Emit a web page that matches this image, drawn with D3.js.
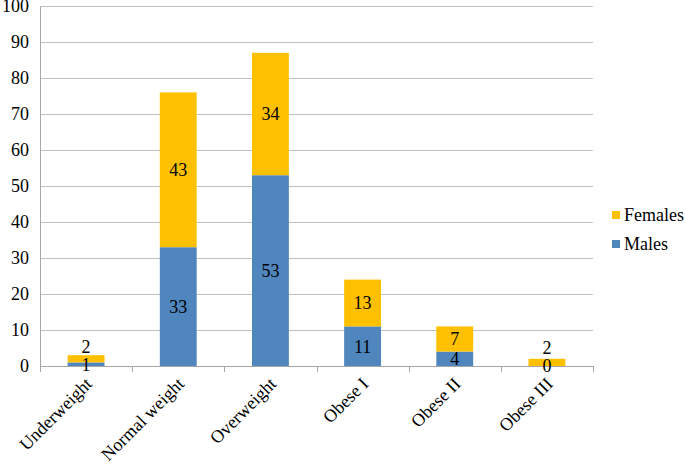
<!DOCTYPE html>
<html lang="en">
<head>
  <meta charset="UTF-8">
  <title>BMI categories by sex</title>
  <script src="https://d3js.org/d3.v7.min.js"></script>
  <style>
    body { margin: 0; background: #fff; }
    text { font-family: "Liberation Serif", "Times New Roman", serif; fill: #000; }
    .grid line { stroke: #bfbfbf; stroke-width: 1; shape-rendering: crispEdges; }
  </style>
</head>
<body>
<div id="chart"></div>
<script>
  // chart values
  const categories = ["Underweight", "Normal weight", "Overweight", "Obese I", "Obese II", "Obese III"];
  const males = [1, 33, 53, 11, 4, 0];
  const females = [2, 43, 34, 13, 7, 2];
  const yTicks = [0, 10, 20, 30, 40, 50, 60, 70, 80, 90, 100];
  const seriesNames = ["Females", "Males"];
  const colors = { Males: "#4f86bd", Females: "#ffc000" };

  const width = 685, height = 464;
  const plot = { left: 40, right: 593, top: 6, bottom: 366 };
  const fs = "18px";

  const svg = d3.select("#chart").append("svg")
    .attr("width", width)
    .attr("height", height);

  const x = d3.scaleBand().domain(categories).range([plot.left, plot.right]).paddingInner(0.6).paddingOuter(0.3);
  const xOuter = d3.scaleBand().domain(categories).range([plot.left, plot.right]);
  const y = d3.scaleLinear().domain([0, 100]).range([plot.bottom, plot.top]);

  // gridlines
  svg.append("g")
    .attr("class", "grid")
    .selectAll("line")
    .data(yTicks.filter(d => d > 0))
    .enter().append("line")
    .attr("x1", plot.left)
    .attr("x2", plot.right)
    .attr("y1", d => Math.round(y(d)) + 0.5)
    .attr("y2", d => Math.round(y(d)) + 0.5);

  // y axis
  const yAxis = svg.append("g")
    .attr("transform", `translate(${plot.left},0)`)
    .call(d3.axisLeft(y).tickValues(yTicks).tickSize(0).tickPadding(11));
  yAxis.attr("font-family", null).attr("font-size", null);
  yAxis.select(".domain").attr("stroke", "#a6a6a6").attr("shape-rendering", "crispEdges");
  yAxis.selectAll("text").style("font-size", fs);

  // stacked bars
  const rows = categories.map((c, i) => ({ cat: c, Males: males[i], Females: females[i] }));
  const stack = d3.stack().keys(["Males", "Females"])(rows);

  svg.append("g").selectAll("g")
    .data(stack)
    .enter().append("g")
    .attr("fill", d => colors[d.key])
    .selectAll("rect")
    .data(d => d)
    .enter().append("rect")
    .attr("x", d => x(d.data.cat))
    .attr("width", x.bandwidth())
    .attr("y", d => y(d[1]))
    .attr("height", d => y(d[0]) - y(d[1]));

  // x axis
  const xAxis = svg.append("g")
    .attr("transform", `translate(0,${plot.bottom})`);
  xAxis.append("line")
    .attr("x1", plot.left).attr("x2", plot.right)
    .attr("y1", 0.5).attr("y2", 0.5)
    .attr("stroke", "#a6a6a6");
  xAxis.selectAll(".tk")
    .data(d3.range(categories.length + 1))
    .enter().append("line")
    .attr("class", "tk")
    .attr("x1", i => Math.round(plot.left + i * xOuter.step()) + 0.5)
    .attr("x2", i => Math.round(plot.left + i * xOuter.step()) + 0.5)
    .attr("y1", 0).attr("y2", 6)
    .attr("stroke", "#a6a6a6");
  xAxis.selectAll(".lbl")
    .data(categories)
    .enter().append("text")
    .attr("class", "lbl")
    .attr("text-anchor", "end")
    .style("font-size", fs)
    .attr("transform", d => `translate(${xOuter(d) + xOuter.bandwidth() / 2 + 7},${19}) rotate(-45)`)
    .text(d => d);

  // data labels
  const labels = [];
  rows.forEach((r, i) => {
    const cx = x(r.cat) + x.bandwidth() / 2;
    const my = y(r.Males / 2);
    let fy = y(r.Males + r.Females / 2);
    fy = Math.min(fy, my - 18);
    labels.push({ x: cx, y: my, t: r.Males });
    labels.push({ x: cx, y: fy, t: r.Females });
  });
  svg.append("g").selectAll("text")
    .data(labels)
    .enter().append("text")
    .attr("x", d => d.x)
    .attr("y", d => d.y)
    .attr("dy", "0.35em")
    .attr("text-anchor", "middle")
    .style("font-size", fs)
    .text(d => d.t);

  // legend
  const legend = svg.append("g").attr("transform", "translate(612,211)");
  const li = legend.selectAll("g")
    .data(seriesNames)
    .enter().append("g")
    .attr("transform", (d, i) => `translate(0,${i * 29})`);
  li.append("rect")
    .attr("width", 8).attr("height", 8)
    .attr("fill", d => colors[d]);
  li.append("text")
    .attr("x", 12).attr("y", 4)
    .attr("dy", "0.35em")
    .style("font-size", fs)
    .text(d => d);
</script>
</body>
</html>
